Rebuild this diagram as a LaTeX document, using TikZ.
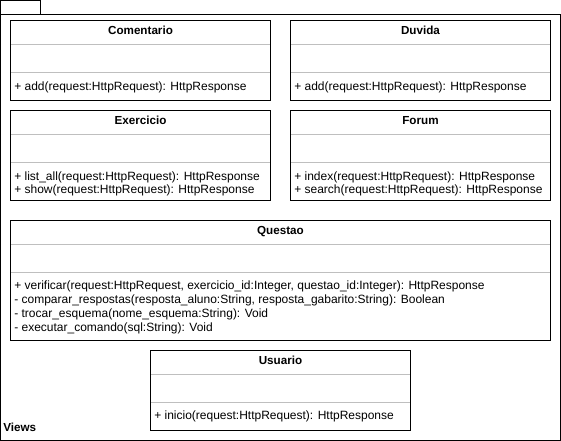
\documentclass[tikz,border=0pt]{standalone}
\usepackage{fontspec}
\setmainfont{Liberation Sans}
\begin{document}
\begin{tikzpicture}[x=0.75pt,y=-0.75pt,
  frame/.style={draw=black,line width=0.9pt},
  box/.style={draw=black,line width=0.9pt,fill=white},
  sep/.style={draw=black!25,line width=0.9pt},
  title/.style={font=\fontsize{8.75}{9}\selectfont\bfseries,anchor=base,inner sep=0pt},
  meth/.style={font=\fontsize{9}{10.5}\selectfont,anchor=base west,inner sep=0pt},
  lbl/.style={font=\fontsize{8.75}{9}\selectfont\bfseries,anchor=base west,inner sep=0pt}]
\useasboundingbox (0,0) rectangle (561,441);
\fill[white] (0,0) rectangle (561,441);
% package frame
\draw[frame] (0.5,0.5) rectangle (40.5,14.5);
\draw[frame] (0.5,14.5) rectangle (560.5,440.5);
\node[lbl] (views) at (3,432) {Views};
% Comentario
\draw[box] (10.5,20.5) rectangle (270.5,100.5);
\draw[sep] (11,44.5) -- (270,44.5);
\draw[sep] (11,72.5) -- (270,72.5);
\node[title] (comT) at (140.5,34.5) {Comentario};
\node[meth] (comM1) at (14,90.5) {+ add(request:HttpRequest): HttpResponse};
% Duvida
\draw[box] (290.5,20.5) rectangle (550.5,100.5);
\draw[sep] (291,44.5) -- (550,44.5);
\draw[sep] (291,72.5) -- (550,72.5);
\node[title] (duvT) at (420.5,34.5) {Duvida};
\node[meth] (duvM1) at (294,90.5) {+ add(request:HttpRequest): HttpResponse};
% Exercicio
\draw[box] (10.5,110.5) rectangle (270.5,200.5);
\draw[sep] (11,134.5) -- (270,134.5);
\draw[sep] (11,162.5) -- (270,162.5);
\node[title] (excT) at (140.5,124.5) {Exercicio};
\node[meth] (excM1) at (14,180.5) {+ list\_all(request:HttpRequest): HttpResponse};
\node[meth] (excM2) at (14,193.5) {+ show(request:HttpRequest): HttpResponse};
% Forum
\draw[box] (290.5,110.5) rectangle (550.5,200.5);
\draw[sep] (291,134.5) -- (550,134.5);
\draw[sep] (291,162.5) -- (550,162.5);
\node[title] (forT) at (420.5,124.5) {Forum};
\node[meth] (forM1) at (294,180.5) {+ index(request:HttpRequest): HttpResponse};
\node[meth] (forM2) at (294,193.5) {+ search(request:HttpRequest): HttpResponse};
% Questao
\draw[box] (10.5,220.5) rectangle (550.5,340.5);
\draw[sep] (11,244.5) -- (550,244.5);
\draw[sep] (11,272.5) -- (550,272.5);
\node[title] (queT) at (280.5,234.5) {Questao};
\node[meth] (queM1) at (14,290) {+ verificar(request:HttpRequest, exercicio\_id:Integer, questao\_id:Integer): HttpResponse};
\node[meth] (queM2) at (14,304) {- comparar\_respostas(resposta\_aluno:String, resposta\_gabarito:String): Boolean};
\node[meth] (queM3) at (14,318) {- trocar\_esquema(nome\_esquema:String): Void};
\node[meth] (queM4) at (14,332) {- executar\_comando(sql:String): Void};
% Usuario
\draw[box] (150.5,350.5) rectangle (410.5,430.5);
\draw[sep] (151,374.5) -- (410,374.5);
\draw[sep] (151,402.5) -- (410,402.5);
\node[title] (usuT) at (280.5,364.5) {Usuario};
\node[meth] (usuM1) at (154,420) {+ inicio(request:HttpRequest): HttpResponse};
\end{tikzpicture}
\end{document}
